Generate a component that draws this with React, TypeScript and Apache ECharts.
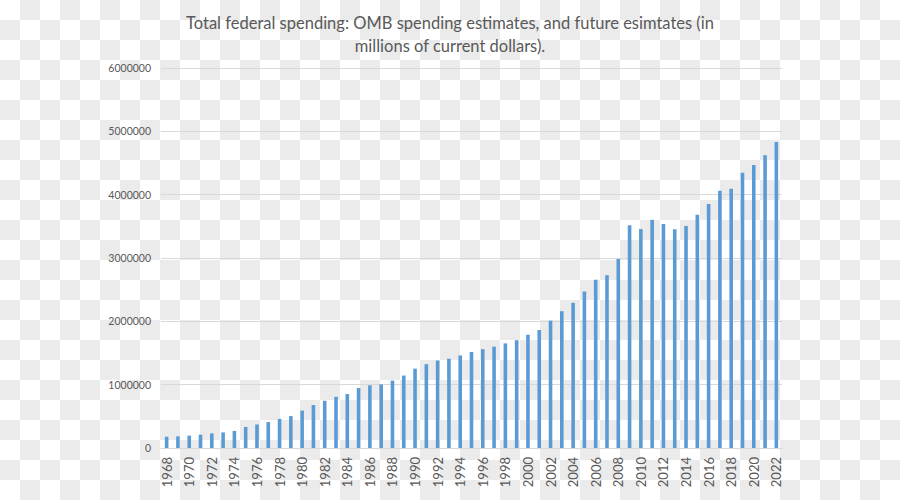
import React, { useEffect, useRef } from "react";
import * as echarts from "echarts";

const years: string[] = [];
for (let y = 1968; y <= 2022; y++) years.push(String(y));

const spending: number[] = [
  178134, 183640, 195649, 210172, 230681, 245707, 269359, 332332, 371792, 409218,
  458746, 504028, 590941, 678241, 745743, 808364, 851805, 946344, 990382, 1004017,
  1064416, 1143744, 1252993, 1324226, 1381529, 1409386, 1461752, 1515742, 1560484, 1601116,
  1652458, 1701842, 1788950, 1862846, 2010894, 2159899, 2292841, 2471957, 2655050, 2728686,
  2982544, 3517677, 3457079, 3603059, 3536951, 3454647, 3506089, 3684000, 3853000, 4063000,
  4095000, 4347000, 4468000, 4621000, 4832000,
];

const yTicks = [0, 1000000, 2000000, 3000000, 4000000, 5000000, 6000000];

const titleText =
  "Total federal spending: OMB spending estimates, and future esimtates (in\nmillions of current dollars).";

export default function App() {
  const ref = useRef<HTMLDivElement>(null);
  useEffect(() => {
    if (!ref.current) return;
    const chart = echarts.init(ref.current, undefined, { renderer: "svg" });
    chart.setOption({
      animation: false,
      backgroundColor: "transparent",
      title: {
        text: titleText,
        left: "center",
        top: 6,
        textStyle: {
          fontFamily: "Lato",
          fontSize: 16.5,
          fontWeight: "normal",
          color: "#595959",
          lineHeight: 23,
        },
      },
      grid: { left: 161, right: 118, top: 68, bottom: 52 },
      xAxis: {
        type: "category",
        data: years,
        axisLine: { lineStyle: { color: "#d9d9d9" } },
        axisTick: { show: false },
        axisLabel: {
          interval: 1,
          rotate: 90,
          margin: 9,
          fontFamily: "Lato",
          fontSize: 13,
          color: "#595959",
        },
      },
      yAxis: {
        type: "value",
        min: yTicks[0],
        max: yTicks[yTicks.length - 1],
        interval: 1000000,
        axisLine: { show: false },
        axisTick: { show: false },
        splitLine: { lineStyle: { color: "#d9d9d9" } },
        axisLabel: {
          margin: 10,
          fontFamily: "Lato",
          fontSize: 10.5,
          color: "#595959",
          formatter: (v: number) => String(v),
        },
      },
      series: [
        {
          type: "bar",
          data: spending,
          barWidth: 3.6,
          itemStyle: { color: "#5b9bd5" },
        },
      ],
    });
    return () => chart.dispose();
  }, []);
  return (
    <div
      style={{
        position: "fixed",
        left: 0,
        top: 0,
        width: 900,
        height: 500,
        backgroundColor: "#ffffff",
        backgroundImage:
          "conic-gradient(#ebebeb 0 25%, #ffffff 0 50%, #ebebeb 0 75%, #ffffff 0)",
        backgroundSize: "40px 40px",
      }}
    >
      <div ref={ref} style={{ width: 900, height: 500 }} />
    </div>
  );
}
